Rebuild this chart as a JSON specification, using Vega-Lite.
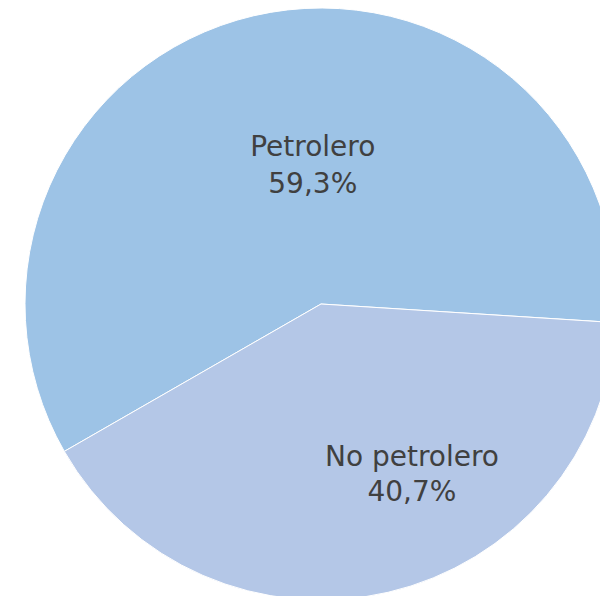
{
  "$schema": "https://vega.github.io/schema/vega-lite/v6.json",
  "width": 642,
  "height": 608,
  "padding": 0,
  "autosize": {"type": "none"},
  "background": "white",
  "config": {"view": {"stroke": null}},
  "data": {"values": [
    {"cat": "Petrolero", "value": 59.3, "label": "Petrolero\n59,3%"},
    {"cat": "No petrolero", "value": 40.7, "label": "No petrolero\n40,7%"}
  ]},
  "encoding": {
    "theta": {"field": "value", "type": "quantitative", "stack": true, "scale": {"range": [1.634, 7.917]}},
    "order": {"field": "cat", "type": "nominal", "sort": "ascending"}
  },
  "layer": [
    {
      "mark": {"type": "arc", "radius": 296, "stroke": "white", "strokeWidth": 1},
      "encoding": {
        "color": {"field": "cat", "type": "nominal", "legend": null,
          "scale": {"domain": ["Petrolero", "No petrolero"], "range": ["#9DC3E6", "#B4C7E7"]}}
      }
    },
    {
      "mark": {"type": "text", "radius": 142, "dx": 24, "dy": -18, "font": "DejaVu Sans", "fontSize": 28, "color": "#404040", "lineBreak": "\n", "lineHeight": 37, "baseline": "middle", "align": "center"},
      "encoding": {
        "text": {"condition": {"test": "datum.cat === 'Petrolero'", "field": "label"}, "value": ""}
      }
    },
    {
      "mark": {"type": "text", "radius": 176, "dx": 51, "dy": -17, "font": "DejaVu Sans", "fontSize": 28, "color": "#404040", "lineBreak": "\n", "lineHeight": 35, "baseline": "middle", "align": "center"},
      "encoding": {
        "text": {"condition": {"test": "datum.cat === 'No petrolero'", "field": "label"}, "value": ""}
      }
    }
  ]
}
